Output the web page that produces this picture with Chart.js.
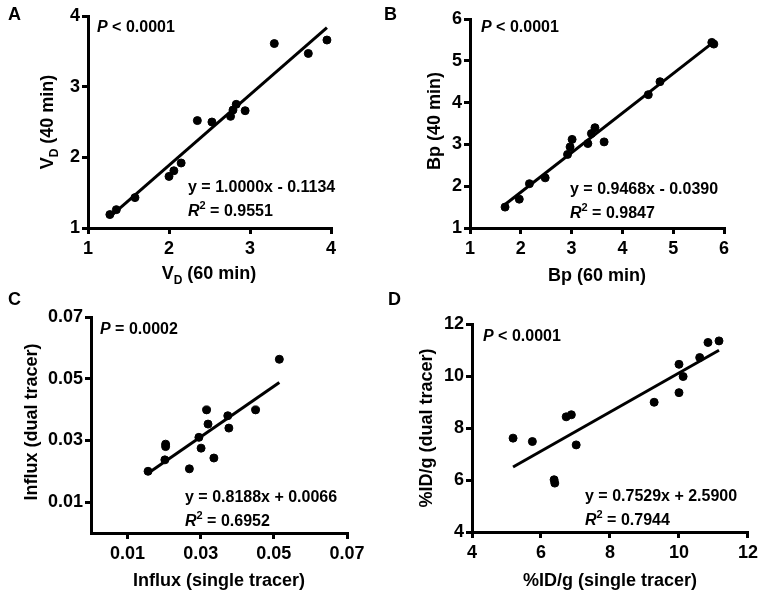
<!DOCTYPE html>
<html><head><meta charset="utf-8">
<script src="https://cdn.jsdelivr.net/npm/chart.js@4.4.0/dist/chart.umd.min.js"></script>
<style>
html,body{margin:0;padding:0;background:#fff;}
#wrap{position:relative;width:762px;height:593px;overflow:hidden;background:#fff;}
canvas{position:absolute;}
</style></head><body>
<div id="wrap">
<canvas id="cA" style="left:0px;top:0px;width:381px;height:285px"></canvas>
<canvas id="cB" style="left:381px;top:0px;width:381px;height:285px"></canvas>
<canvas id="cC" style="left:0px;top:285px;width:381px;height:308px"></canvas>
<canvas id="cD" style="left:381px;top:285px;width:381px;height:308px"></canvas>
</div>
<script>
// ---- data ----
const vd60 = [1.27,1.35,1.58,2.00,2.06,2.15,2.35,2.53,2.76,2.79,2.83,2.94,3.30,3.72,3.95];
const vd40 = [1.19,1.26,1.43,1.73,1.81,1.92,2.52,2.50,2.58,2.67,2.75,2.66,3.61,3.47,3.66];
const bp60 = [1.69,1.97,2.17,2.48,2.92,2.97,3.01,3.32,3.39,3.46,3.64,4.51,4.74,5.76,5.80];
const bp40 = [1.50,1.69,2.06,2.20,2.76,2.94,3.12,3.02,3.26,3.40,3.06,4.19,4.50,5.44,5.40];
const influxSingle = [0.0156,0.0204,0.0204,0.0202,0.0269,0.0295,0.0301,0.0316,0.0320,0.0336,0.0374,0.0377,0.0450,0.0515];
const influxDual   = [0.0200,0.0288,0.0280,0.0237,0.0208,0.0310,0.0275,0.0399,0.0353,0.0243,0.0380,0.0340,0.0399,0.0563];
const idSingle = [5.19,5.75,6.38,6.40,6.73,6.88,7.02,9.28,10.00,10.00,10.12,10.60,10.84,11.16];
const idDual   = [7.61,7.48,6.01,5.88,8.43,8.51,7.35,8.99,10.45,9.36,9.98,10.71,11.29,11.35];

const slopes = [1.0000, 0.9468, 0.8188, 0.7529];
const intercepts = [-0.1134, -0.0390, 0.0066, 2.5900];
const pLabels = ['< 0.0001', '< 0.0001', '= 0.0002', '< 0.0001'];
const eqLabels = ['y = 1.0000x - 0.1134', 'y = 0.9468x - 0.0390', 'y = 0.8188x + 0.0066', 'y = 0.7529x + 2.5900'];
const r2Labels = ['0.9551', '0.9847', '0.6952', '0.7944'];
const panelLetters = ['A', 'B', 'C', 'D'];

const ticksA = [1,2,3,4];
const ticksB = [1,2,3,4,5,6];
const ticksC = [0.01,0.03,0.05,0.07];
const ticksD = [4,6,8,10,12];

const FONT = '"Liberation Sans", Arial, Helvetica, sans-serif';

function drawLabel(ctx, parts, x, y, align, rotate) {
  ctx.save();
  let total = 0;
  for (const p of parts) {
    ctx.font = (p.italic ? 'italic ' : '') + 'bold ' + p.size + 'px ' + FONT;
    p.w = ctx.measureText(p.t).width;
    total += p.w;
  }
  ctx.translate(x, y);
  if (rotate) ctx.rotate(-Math.PI / 2);
  let cx = align === 'center' ? -total / 2 : 0;
  ctx.fillStyle = '#000';
  ctx.textBaseline = 'alphabetic';
  ctx.textAlign = 'left';
  for (const p of parts) {
    ctx.font = (p.italic ? 'italic ' : '') + 'bold ' + p.size + 'px ' + FONT;
    ctx.fillText(p.t, cx, p.dy || 0);
    cx += p.w;
  }
  ctx.restore();
}

function makePanel(canvasId, idx, xs, ys, cfg) {
  const cv = document.getElementById(canvasId);
  const W = parseInt(cv.style.width), H = parseInt(cv.style.height);
  cv.width = W; cv.height = H;
  const pts = xs.map((x, i) => ({x: x, y: ys[i]}));
  const xmn = Math.min(...xs), xmx = Math.max(...xs);
  const fit = [{x: xmn, y: slopes[idx] * xmn + intercepts[idx]}, {x: xmx, y: slopes[idx] * xmx + intercepts[idx]}];
  const A = cfg.area;
  const textPlugin = {
    id: 'txt' + idx,
    afterDraw(chart) {
      const ctx = chart.ctx;
      drawLabel(ctx, [{t: panelLetters[idx], size: 18}], cfg.letter[0], cfg.letter[1], 'left');
      drawLabel(ctx, [{t: 'P', size: 16, italic: true}, {t: ' ' + pLabels[idx], size: 16}], cfg.p[0], cfg.p[1], 'left');
      drawLabel(ctx, [{t: eqLabels[idx], size: 16}], cfg.eq[0], cfg.eq[1], 'left');
      drawLabel(ctx, [{t: 'R', size: 16, italic: true}, {t: '2', size: 11, dy: -7}, {t: ' = ' + r2Labels[idx], size: 16}], cfg.eq[0], cfg.eq[1] + 24, 'left');
      drawLabel(ctx, cfg.xTitle, cfg.xt[0], cfg.xt[1], 'center', false);
      drawLabel(ctx, cfg.yTitle, cfg.yt[0], cfg.yt[1], 'center', true);
    }
  };
  const axisCommon = {
    border: {display: true, color: '#000', width: 3},
    grid: {drawOnChartArea: false, drawTicks: true, tickLength: 6, lineWidth: 3, color: '#000'},
    title: {display: false}
  };
  return new Chart(cv, {
    type: 'scatter',
    data: {datasets: [
      {type: 'scatter', data: pts, backgroundColor: '#000', borderColor: '#000', pointRadius: 4, pointHoverRadius: 4, clip: false},
      {type: 'line', data: fit, borderColor: '#000', borderWidth: 3, pointRadius: 0, fill: false, clip: false}
    ]},
    options: {
      responsive: false, animation: false, events: [],
      layout: {padding: {left: 0, top: A.top, right: W - A.right, bottom: 0}},
      plugins: {legend: {display: false}, tooltip: {enabled: false}},
      scales: {
        x: Object.assign({}, axisCommon, {
          type: 'linear', position: 'bottom', min: cfg.xmin, max: cfg.xmax,
          afterBuildTicks: s => { s.ticks = cfg.xticks.map(v => ({value: v})); },
          afterFit: s => { s.height = H - A.bottom; },
          ticks: {color: '#000', padding: 4, font: {family: FONT, size: 18, weight: 'bold'}, maxRotation: 0, autoSkip: false,
                  callback: v => String(v)}
        }),
        y: Object.assign({}, axisCommon, {
          type: 'linear', position: 'left', min: cfg.ymin, max: cfg.ymax,
          afterBuildTicks: s => { s.ticks = cfg.yticks.map(v => ({value: v})); },
          afterFit: s => { s.width = A.left; },
          ticks: {color: '#000', padding: 2, font: {family: FONT, size: 18, weight: 'bold'}, autoSkip: false,
                  callback: v => String(v)}
        })
      }
    },
    plugins: [textPlugin]
  });
}

makePanel('cA', 0, vd60, vd40, {
  area: {left: 88, right: 331, top: 16, bottom: 228},
  xmin: 1, xmax: 4, ymin: 1, ymax: 4, xticks: ticksA, yticks: ticksA,
  letter: [8, 20], p: [97, 32], eq: [188, 192],
  xTitle: [{t: 'V', size: 18}, {t: 'D', size: 12, dy: 5}, {t: ' (60 min)', size: 18}], xt: [209, 279],
  yTitle: [{t: 'V', size: 18}, {t: 'D', size: 12, dy: 5}, {t: ' (40 min)', size: 18}], yt: [53, 122]
});
makePanel('cB', 1, bp60, bp40, {
  area: {left: 89, right: 343, top: 19, bottom: 228},
  xmin: 1, xmax: 6, ymin: 1, ymax: 6, xticks: ticksB, yticks: ticksB,
  letter: [3, 20], p: [100, 32], eq: [189, 194],
  xTitle: [{t: 'Bp (60 min)', size: 18}], xt: [216, 281],
  yTitle: [{t: 'Bp (40 min)', size: 18}], yt: [59, 121]
});
makePanel('cC', 2, influxSingle, influxDual, {
  area: {left: 91, right: 347, top: 32, bottom: 248},
  xmin: 0, xmax: 0.07, ymin: 0, ymax: 0.07, xticks: ticksC, yticks: ticksC,
  letter: [8, 20], p: [100, 49], eq: [185, 217],
  xTitle: [{t: 'Influx (single tracer)', size: 18}], xt: [219, 301],
  yTitle: [{t: 'Influx (dual tracer)', size: 18}], yt: [37, 137]
});
makePanel('cD', 3, idSingle, idDual, {
  area: {left: 91, right: 367, top: 39, bottom: 247},
  xmin: 4, xmax: 12, ymin: 4, ymax: 12, xticks: ticksD, yticks: ticksD,
  letter: [7, 20], p: [102, 56], eq: [204, 216],
  xTitle: [{t: '%ID/g (single tracer)', size: 18}], xt: [229, 301],
  yTitle: [{t: '%ID/g (dual tracer)', size: 18}], yt: [51, 143]
});
</script>
</body></html>
